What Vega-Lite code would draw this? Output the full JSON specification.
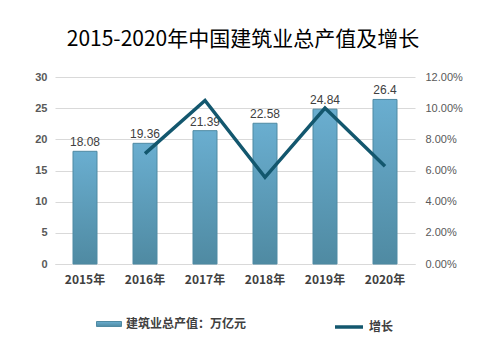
{
  "$schema": "https://vega.github.io/schema/vega-lite/v6.json",
  "width": 360,
  "height": 187,
  "padding": {"left": 34, "right": 34, "top": 29, "bottom": 15},
  "background": "#ffffff",
  "title": {
    "text": "2015-2020年中国建筑业总产值及增长",
    "font": "Noto Sans CJK SC",
    "fontSize": 21,
    "fontWeight": "normal",
    "color": "#000000",
    "anchor": "middle",
    "offset": 21,
    "dx": 8
  },
  "data": {
    "values": [
      {"year": "2015年", "value": 18.08, "growth": null},
      {"year": "2016年", "value": 19.36, "growth": 0.0708},
      {"year": "2017年", "value": 21.39, "growth": 0.1049},
      {"year": "2018年", "value": 22.58, "growth": 0.0556},
      {"year": "2019年", "value": 24.84, "growth": 0.1001},
      {"year": "2020年", "value": 26.4, "growth": 0.0628}
    ]
  },
  "encoding": {
    "x": {
      "field": "year",
      "type": "ordinal",
      "sort": null,
      "scale": {"paddingInner": 0.6, "paddingOuter": 0.3},
      "axis": {
        "title": null,
        "labelAngle": 0,
        "labelFont": "Noto Sans CJK SC",
        "labelFontWeight": "bold",
        "labelFontSize": 12,
        "labelColor": "#404040",
        "labelPadding": 10,
        "ticks": false,
        "domain": true,
        "domainColor": "#d9d9d9"
      }
    }
  },
  "layer": [
    {
      "mark": {
        "type": "bar",
        "strokeWidth": 1,
        "fill": {
          "gradient": "linear",
          "x1": 0, "y1": 0, "x2": 0, "y2": 1,
          "stops": [
            {"offset": 0, "color": "#6aaed0"},
            {"offset": 1, "color": "#4f8aa2"}
          ]
        }
      },
      "encoding": {
        "y": {
          "field": "value",
          "type": "quantitative",
          "scale": {"domain": [0, 30]},
          "axis": {
            "title": null,
            "values": [0, 5, 10, 15, 20, 25, 30],
            "labelFont": "Liberation Sans",
            "labelFontWeight": "bold",
            "labelFontSize": 11,
            "labelColor": "#595959",
            "labelPadding": 8,
            "ticks": false,
            "domain": false,
            "grid": true,
            "gridColor": "#d9d9d9"
          }
        },
        "stroke": {
          "datum": "建筑业总产值：万亿元",
          "scale": {"range": ["#4f8aa3"]},
          "legend": {
            "title": null,
            "orient": "none",
            "legendX": 41,
            "legendY": 234,
            "symbolType": "M-1,-0.2H1V0.2H-1Z",
            "symbolSize": 625,
            "symbolFillColor": "#5fa3c3",
            "symbolStrokeColor": "#4f8aa3",
            "symbolStrokeWidth": 1,
            "labelFont": "Noto Sans CJK SC",
            "labelFontWeight": "bold",
            "labelFontSize": 12,
            "labelColor": "#404040"
          }
        }
      }
    },
    {
      "mark": {"type": "text", "dy": -9, "font": "Liberation Sans", "fontSize": 12, "color": "#404040"},
      "encoding": {
        "y": {"field": "value", "type": "quantitative", "scale": {"domain": [0, 30]}, "axis": null},
        "text": {"field": "value", "type": "quantitative"}
      }
    },
    {
      "mark": {"type": "line", "strokeWidth": 3.5, "strokeJoin": "miter"},
      "encoding": {
        "y": {
          "field": "growth",
          "type": "quantitative",
          "scale": {"domain": [0, 0.12]},
          "axis": {
            "orient": "right",
            "title": null,
            "format": ".2%",
            "values": [0, 0.02, 0.04, 0.06, 0.08, 0.1, 0.12],
            "labelFont": "Liberation Sans",
            "labelFontSize": 11,
            "labelColor": "#595959",
            "labelPadding": 10,
            "ticks": false,
            "domain": false,
            "grid": false
          }
        },
        "color": {
          "datum": "增长",
          "scale": {"range": ["#13576e"]},
          "legend": {
            "title": null,
            "orient": "none",
            "legendX": 278,
            "legendY": 234,
            "symbolType": "stroke",
            "symbolSize": 784,
            "symbolStrokeWidth": 3.5,
            "labelFont": "Noto Sans CJK SC",
            "labelFontWeight": "bold",
            "labelFontSize": 12,
            "labelColor": "#404040"
          }
        }
      }
    }
  ],
  "resolve": {"scale": {"y": "independent"}},
  "config": {
    "view": {"stroke": null}
  }
}
